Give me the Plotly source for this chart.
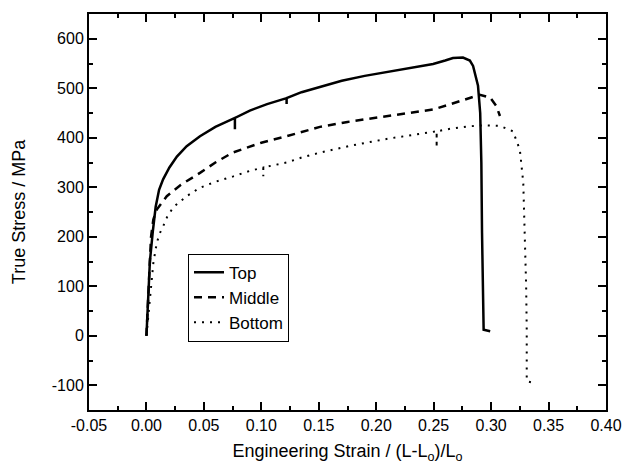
import plotly.graph_objects as go

top_x = [0, 0.001, 0.003, 0.0055, 0.008, 0.011, 0.0145, 0.02, 0.0265, 0.035, 0.0466, 0.06, 0.075,
         0.077, 0.077, 0.077, 0.09, 0.105, 0.122, 0.122, 0.122, 0.135, 0.151, 0.17, 0.19, 0.21,
         0.23, 0.2495, 0.26, 0.2668, 0.2755, 0.2815, 0.2843, 0.2886, 0.2905, 0.2915, 0.2921,
         0.2928, 0.2935, 0.2992]
top_y = [0, 50, 150, 210, 260, 295, 316, 340, 362, 383, 403, 422, 437,
         440, 417, 440, 455, 468, 480, 468, 480, 492, 503, 515, 525, 533,
         541, 549, 556, 561, 562, 556, 545, 505, 450, 350, 208,
         100, 12, 9]

mid_x = [0, 0.002, 0.004, 0.006, 0.009, 0.0177, 0.03, 0.0466, 0.06, 0.075, 0.10, 0.122, 0.135,
         0.151, 0.175, 0.20, 0.225, 0.2495, 0.265, 0.2785, 0.2901, 0.2992, 0.3045, 0.3077]
mid_y = [0, 100, 200, 235, 255, 282, 305, 329, 350, 370, 390, 403, 412,
         422, 432, 440, 449, 457, 468, 478, 487, 481, 464, 444]

bot_x = [0, 0.003, 0.006, 0.009, 0.0118, 0.0147, 0.018, 0.0234, 0.035, 0.0466, 0.06, 0.0756,
         0.09, 0.1017, 0.1017, 0.1017, 0.122, 0.135, 0.151, 0.18, 0.21, 0.23, 0.2526, 0.2526,
         0.2526, 0.2642, 0.28, 0.293, 0.3077, 0.319, 0.325, 0.328, 0.3295, 0.3305, 0.331,
         0.331, 0.3367]
bot_y = [0, 80, 147, 188, 208, 222, 240, 260, 282, 299, 311, 322,
         333, 340, 322, 340, 350, 360, 370, 385, 398, 405, 413, 380,
         413, 418, 423, 425, 424, 413, 376, 309, 208, 100, 12,
         -92, -95]

x_ticks = [-0.05, 0.0, 0.05, 0.10, 0.15, 0.20, 0.25, 0.30, 0.35, 0.40]
x_labels = ["-0.05", "0.00", "0.05", "0.10", "0.15", "0.20", "0.25", "0.30", "0.35", "0.40"]
y_ticks = [-100, 0, 100, 200, 300, 400, 500, 600]
y_labels = ["-100", "0", "100", "200", "300", "400", "500", "600"]

fig = go.Figure()
fig.add_trace(go.Scatter(x=top_x, y=top_y, mode="lines", name="Top",
                         line=dict(color="black", width=2.5)))
fig.add_trace(go.Scatter(x=mid_x, y=mid_y, mode="lines", name="Middle",
                         line=dict(color="black", width=2.5, dash="8px,6px")))
fig.add_trace(go.Scatter(x=bot_x, y=bot_y, mode="lines", name="Bottom",
                         line=dict(color="black", width=2, dash="2px,6px")))

font = "Liberation Sans, Arial, sans-serif"
axis_common = dict(showgrid=False, zeroline=False, showline=True, linecolor="black", linewidth=2,
                   mirror="allticks", ticks="inside", ticklen=8, tickwidth=1.5, tickcolor="black",
                   automargin=False,
                   tickfont=dict(family=font, size=16, color="black"))

fig.update_xaxes(range=[-0.05, 0.40], tickvals=x_ticks, ticktext=x_labels,
                 minor=dict(ticks="inside", ticklen=4, tickwidth=1.5, tickcolor="black", dtick=0.025, tick0=0),
                 title=dict(text="Engineering Strain / (L-L<sub>o</sub>)/L<sub>o</sub>",
                            font=dict(family=font, size=18, color="black"), standoff=11),
                 **axis_common)
fig.update_yaxes(range=[-150, 650], tickvals=y_ticks, ticktext=y_labels,
                 minor=dict(ticks="inside", ticklen=4, tickwidth=1.5, tickcolor="black", dtick=50, tick0=0),
                 title=dict(text="True Stress / MPa",
                            font=dict(family=font, size=18, color="black"), standoff=21),
                 **axis_common)

fig.update_layout(
    width=622, height=469,
    margin=dict(l=89, r=16, t=14, b=59),
    paper_bgcolor="white", plot_bgcolor="white",
    showlegend=True,
    legend=dict(x=0.1915, y=0.395, xanchor="left", yanchor="top",
                bordercolor="black", borderwidth=1, bgcolor="white",
                font=dict(family=font, size=17, color="black"),
                tracegroupgap=0, itemwidth=30),
)

fig.write_html("out.html", config={"displayModeBar": False},
               post_script="document.body.style.margin='0px';")
